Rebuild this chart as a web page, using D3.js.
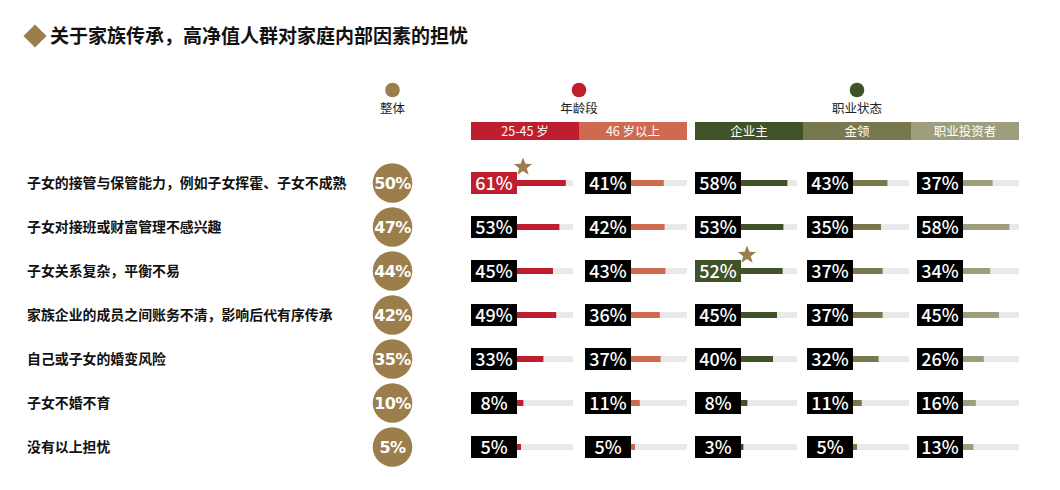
<!DOCTYPE html>
<html>
<head>
<meta charset="utf-8">
<script src="https://cdn.jsdelivr.net/npm/d3@7/dist/d3.min.js"></script>
<style>
  html, body { margin: 0; padding: 0; background: #ffffff; }
  svg { display: block; }
</style>
</head>
<body>
<svg id="chart" width="1060" height="490"></svg>
<script>
// ---------- data ----------
const title = "关于家族传承，高净值人群对家庭内部因素的担忧";
const categories = [
  "子女的接管与保管能力，例如子女挥霍、子女不成熟",
  "子女对接班或财富管理不感兴趣",
  "子女关系复杂，平衡不易",
  "家族企业的成员之间账务不清，影响后代有序传承",
  "自己或子女的婚变风险",
  "子女不婚不育",
  "没有以上担忧"
];
const overall = [50, 47, 44, 42, 35, 10, 5];
const seriesNames = ["25-45 岁", "46 岁以上", "企业主", "金领", "职业投资者"];
const age2545 = [61, 53, 45, 49, 33, 8, 5];
const age46plus = [41, 42, 43, 36, 37, 11, 5];
const owner = [58, 53, 52, 45, 40, 8, 3];
const goldCollar = [43, 35, 37, 37, 32, 11, 5];
const investor = [37, 58, 34, 45, 26, 16, 13];
const groups = ["整体", "年龄段", "职业状态"];
// highlighted cells [series index, row index]
const highlights = [[0, 0], [2, 2]];

// ---------- style ----------
const gold = "#9c7d4c";
const seriesColors = ["#be1e2d", "#cf6a50", "#3f5228", "#78784f", "#9e9e7c"];
const groupColors = [gold, "#be1e2d", "#3f5228"];
const trackColor = "#e9e9e9";
const cjk = "'Noto Sans CJK SC', 'Noto Sans', sans-serif";

const svg = d3.select("#chart");
const seriesValues = [age2545, age46plus, owner, goldCollar, investor];

// ---------- title ----------
svg.append("path")
  .attr("d", d3.symbol(d3.symbolDiamond2, 340)())
  .attr("transform", "translate(35,36)")
  .attr("fill", gold);
svg.append("text")
  .attr("x", 50).attr("y", 43)
  .attr("font-family", cjk).attr("font-weight", 700)
  .attr("font-size", 19).attr("fill", "#111")
  .text(title);

// ---------- scales ----------
const y = d3.scalePoint().domain(d3.range(categories.length)).range([183, 447]);
const w = d3.scaleLinear().domain([0, 100]).range([0, 80]);
const trackMax = 70;
const boxX = [471, 585, 695, 807, 917];
const boxW = 46, boxH = 22, barH = 6;
const headerX = [471, 579, 695, 803, 911];
const headerW = 108;
const overallX = 392.5;

// ---------- group headers ----------
const groupX = [overallX, (471 + 687) / 2, (695 + 1019) / 2];
groups.forEach((g, i) => {
  svg.append("circle").attr("cx", groupX[i]).attr("cy", 90).attr("r", 7.3)
    .attr("fill", groupColors[i]);
  svg.append("text").attr("x", groupX[i]).attr("y", 113)
    .attr("text-anchor", "middle").attr("font-family", cjk)
    .attr("font-size", 12.5).attr("fill", "#222").text(g);
});

seriesNames.forEach((s, i) => {
  svg.append("rect").attr("x", headerX[i]).attr("y", 122)
    .attr("width", headerW).attr("height", 18).attr("fill", seriesColors[i]);
  svg.append("text").attr("x", headerX[i] + headerW / 2).attr("y", 135.5)
    .attr("text-anchor", "middle").attr("font-family", cjk)
    .attr("font-size", 12.5).attr("fill", "#fff").text(s);
});

// ---------- row labels ----------
svg.append("g").selectAll("text").data(categories).join("text")
  .attr("x", 27).attr("y", (d, i) => y(i) + 5)
  .attr("font-family", cjk).attr("font-weight", 700)
  .attr("font-size", 13.9).attr("fill", "#111")
  .text(d => d);

// ---------- overall circles ----------
const og = svg.append("g");
og.selectAll("circle").data(overall).join("circle")
  .attr("cx", overallX).attr("cy", (d, i) => y(i)).attr("r", 19.8)
  .attr("fill", gold);
og.selectAll("text").data(overall).join("text")
  .attr("x", overallX).attr("y", (d, i) => y(i) + 6)
  .attr("text-anchor", "middle").attr("font-family", "'DejaVu Sans', sans-serif")
  .attr("font-weight", 700).attr("font-size", 16).attr("fill", "#fff")
  .attr("letter-spacing", -0.6)
  .text(d => d + "%");

// ---------- series cells ----------
const isHi = (si, ri) => highlights.some(h => h[0] === si && h[1] === ri);
const starPath = (cx, cy, R, r) => {
  const pts = [];
  for (let k = 0; k < 10; k++) {
    const a = -Math.PI / 2 + k * Math.PI / 5;
    const rad = k % 2 === 0 ? R : r;
    pts.push([cx + rad * Math.cos(a), cy + rad * Math.sin(a)]);
  }
  return d3.line()(pts) + "Z";
};

seriesValues.forEach((vals, si) => {
  const g = svg.append("g");
  const x0 = boxX[si] + boxW;
  g.selectAll("rect.track").data(vals).join("rect").attr("class", "track")
    .attr("x", x0).attr("y", (d, i) => y(i) - barH / 2)
    .attr("width", w(trackMax)).attr("height", barH).attr("fill", trackColor);
  g.selectAll("rect.bar").data(vals).join("rect").attr("class", "bar")
    .attr("x", x0).attr("y", (d, i) => y(i) - barH / 2)
    .attr("width", d => w(d)).attr("height", barH).attr("fill", seriesColors[si]);
  g.selectAll("rect.box").data(vals).join("rect").attr("class", "box")
    .attr("x", boxX[si]).attr("y", (d, i) => y(i) - boxH / 2)
    .attr("width", boxW).attr("height", boxH)
    .attr("fill", (d, i) => isHi(si, i) ? seriesColors[si] : "#000");
  g.selectAll("text").data(vals).join("text")
    .attr("x", boxX[si] + boxW / 2).attr("y", (d, i) => y(i) + 6.5)
    .attr("text-anchor", "middle").attr("font-family", cjk)
    .attr("font-weight", 500).attr("font-size", 18).attr("fill", "#fff")
    .text(d => d + "%");
  vals.forEach((d, i) => {
    if (isHi(si, i)) {
      g.append("path").attr("d", starPath(x0 + 6, y(i) - 16, 9.5, 4))
        .attr("fill", gold);
    }
  });
});
</script>
</body>
</html>
